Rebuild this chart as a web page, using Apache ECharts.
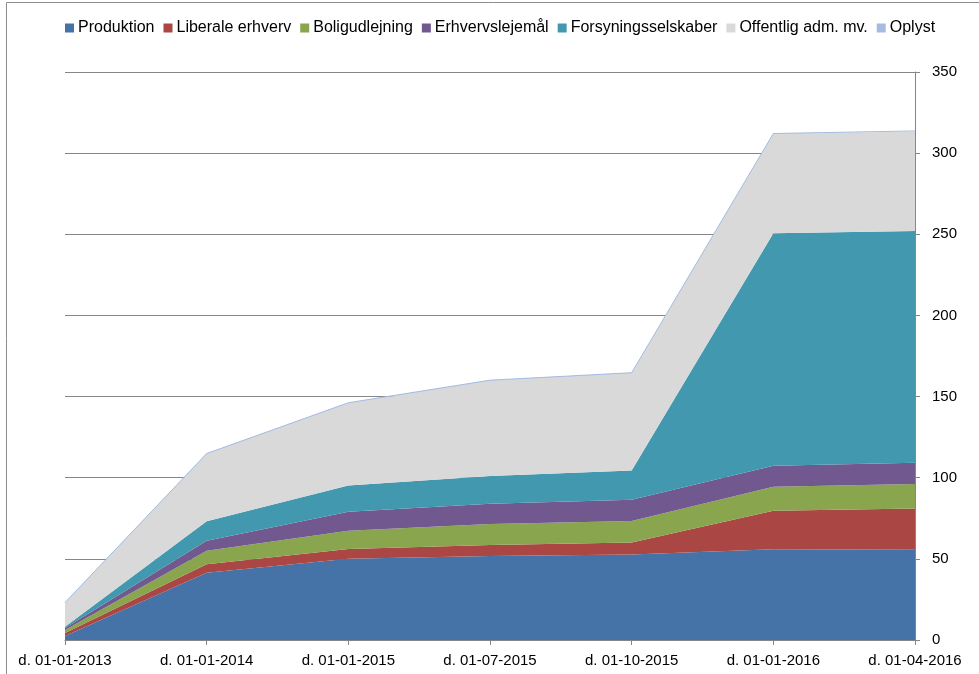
<!DOCTYPE html>
<html>
<head>
<meta charset="utf-8">
<script src="https://cdn.jsdelivr.net/npm/echarts@6/dist/echarts.min.js"></script>
<style>html,body{margin:0;padding:0;background:#fff}#c{width:979px;height:674px}</style>
</head>
<body>
<div id="c"></div>
<script>
const categories = ['d. 01-01-2013','d. 01-01-2014','d. 01-01-2015','d. 01-07-2015','d. 01-10-2015','d. 01-01-2016','d. 01-04-2016'];
const produktion = [2.5, 41.5, 50.0, 51.8, 52.7, 55.9, 55.6];
const liberale = [1.8, 5.1, 6.0, 6.7, 7.4, 23.8, 25.5];
const bolig = [1.9, 8.4, 11.3, 13.0, 13.3, 14.8, 15.0];
const erhvervsleje = [1.2, 6.2, 11.8, 12.5, 13.0, 12.9, 13.1];
const forsyning = [0.8, 11.9, 16.1, 17.0, 18.0, 143.2, 142.8];
const offentlig = [14.6, 41.5, 50.7, 58.8, 60.0, 61.2, 61.4];
const oplyst = [0.3, 0.3, 0.3, 0.3, 0.3, 0.3, 0.3];
const yTicks = [0, 50, 100, 150, 200, 250, 300, 350];

const names = ['Produktion','Liberale erhverv','Boligudlejning','Erhvervslejemål','Forsyningsselskaber','Offentlig adm. mv.','Oplyst'];
const colors = ['#4572a7','#aa4643','#89a54e','#71588f','#4198af','#d9d9d9','#a5bce0'];
const datas = [produktion, liberale, bolig, erhvervsleje, forsyning, offentlig, oplyst];

const chart = echarts.init(document.getElementById('c'));
const font = 'Liberation Sans, Arial, sans-serif';
chart.setOption({
  animation: false,
  color: colors,
  graphic: [{
    type: 'rect', shape: {x: 6.5, y: 2.5, width: 1000, height: 700},
    style: {fill: 'none', stroke: '#8c8c8c', lineWidth: 1}, silent: true
  }],
  legend: {
    top: 20, left: 65, padding: 0,
    itemWidth: 9, itemHeight: 9, itemGap: 9, icon: 'rect',
    textStyle: {fontFamily: font, fontSize: 16, color: '#000', padding: [0,0,0,-1]},
    data: names
  },
  grid: {left: 65, right: 64, top: 72, bottom: 34, containLabel: false},
  xAxis: {
    type: 'category', data: categories, boundaryGap: false,
    axisLine: {lineStyle: {color: '#868686', width: 1}},
    axisTick: {show: true, length: 5, inside: false, lineStyle: {color: '#868686'}},
    axisLabel: {fontFamily: font, fontSize: 15, color: '#000', margin: 13, interval: 0},
    splitLine: {show: false}
  },
  yAxis: {
    type: 'value', position: 'right', min: yTicks[0], max: yTicks[yTicks.length-1], interval: 50,
    axisLine: {show: true, lineStyle: {color: '#868686', width: 1}},
    axisTick: {show: true, length: 5, lineStyle: {color: '#868686'}},
    axisLabel: {fontFamily: font, fontSize: 15, color: '#000', margin: 17},
    splitLine: {show: true, lineStyle: {color: '#868686', width: 1}}
  },
  series: names.map((n, i) => ({
    name: n, type: 'line', stack: 'total', data: datas[i],
    symbol: 'none',
    lineStyle: {width: i === 6 ? 1 : 0, color: colors[i]},
    areaStyle: {color: colors[i], opacity: 1},
    itemStyle: {color: colors[i]}
  }))
});
</script>
</body>
</html>
